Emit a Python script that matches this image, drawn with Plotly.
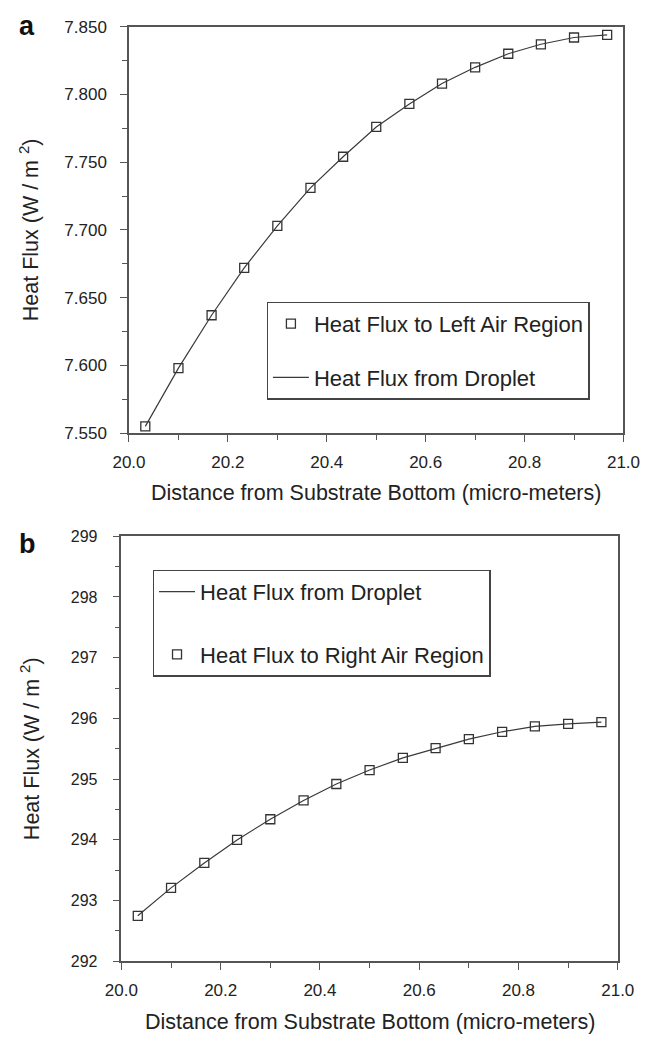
import plotly.graph_objects as go

# ---- data -------------------------------------------------------------
distance_um = [20.033, 20.100, 20.167, 20.233, 20.300, 20.367, 20.433, 20.500,
               20.567, 20.633, 20.700, 20.767, 20.833, 20.900, 20.967]

# panel a
left_air_flux = [7.555, 7.598, 7.637, 7.672, 7.703, 7.731, 7.754, 7.776,
                 7.793, 7.808, 7.820, 7.830, 7.837, 7.842, 7.844]
droplet_flux_a = [7.555, 7.598, 7.637, 7.672, 7.703, 7.731, 7.754, 7.776,
                  7.793, 7.808, 7.820, 7.830, 7.837, 7.842, 7.844]

# panel b
right_air_flux = [292.75, 293.21, 293.62, 294.00, 294.34, 294.65, 294.92, 295.15,
                  295.35, 295.51, 295.66, 295.78, 295.87, 295.91, 295.94]
droplet_flux_b = [292.75, 293.21, 293.62, 294.00, 294.34, 294.65, 294.92, 295.15,
                  295.35, 295.51, 295.66, 295.78, 295.87, 295.91, 295.94]

x_range = [20.0, 21.0]
ya_range = [7.55, 7.85]
yb_range = [292, 299]

# ---- styling ----------------------------------------------------------
W, H = 668, 1044
FONT = "Arial, 'Liberation Sans', sans-serif"
INK = "#222222"
AXIS = "#555555"
MARK = "#333333"
LINE = "#3a3a3a"


def px_x(v):
    return v / W


def px_y(v):
    return 1 - v / H


dom_a_x = [px_x(118), px_x(639)]
dom_a_y = [px_y(432), px_y(18)]
dom_b_x = [px_x(110), px_x(633)]
dom_b_y = [px_y(970), px_y(537)]

fig = go.Figure()

marker_style = dict(symbol="square-open", size=9, color=MARK, line=dict(width=1.3, color=MARK))
line_style = dict(color=LINE, width=1.2)

# panel a
fig.add_trace(go.Scatter(x=distance_um, y=left_air_flux, mode="markers",
                         name="Heat Flux to Left Air Region", marker=marker_style,
                         xaxis="x", yaxis="y", legend="legend", legendgroup="a1"))
fig.add_trace(go.Scatter(x=distance_um, y=droplet_flux_a, mode="lines",
                         name="Heat Flux from Droplet", line=line_style,
                         xaxis="x", yaxis="y", legend="legend", legendgroup="a2"))

# panel b
fig.add_trace(go.Scatter(x=distance_um, y=droplet_flux_b, mode="lines",
                         name="Heat Flux from Droplet", line=line_style,
                         xaxis="x2", yaxis="y2", legend="legend2", legendgroup="b1"))
fig.add_trace(go.Scatter(x=distance_um, y=right_air_flux, mode="markers",
                         name="Heat Flux to Right Air Region", marker=marker_style,
                         xaxis="x2", yaxis="y2", legend="legend2", legendgroup="b2"))

tick_font = dict(family=FONT, size=17, color=INK)


def main_axis(domain, rng, anchor, dtick, minor_dtick, fmt, standoff, font=tick_font):
    return dict(domain=domain, range=rng, anchor=anchor, tickmode="linear",
                tick0=rng[0], dtick=dtick, tickformat=fmt,
                ticks="outside", ticklen=7, tickwidth=1.3, tickcolor=AXIS,
                minor=dict(dtick=minor_dtick, ticks="outside", ticklen=5,
                           tickwidth=1.2, tickcolor=AXIS),
                showline=True, linecolor=AXIS, linewidth=1.5, mirror=True,
                showgrid=False, zeroline=False, tickfont=font,
                ticklabelstandoff=standoff, fixedrange=True)


def inner_ticks(overlay, domain, rng, anchor, dtick):
    # inward half of the major ticks, so they cross the axis line
    return dict(overlaying=overlay, domain=domain, range=rng, anchor=anchor,
                tickmode="linear", tick0=rng[0], dtick=dtick,
                ticks="inside", ticklen=6, tickwidth=1.3, tickcolor=AXIS,
                showticklabels=False, showline=False, showgrid=False,
                zeroline=False, fixedrange=True)


fig.update_layout(
    width=W, height=H, autosize=False,
    margin=dict(l=0, r=0, t=0, b=0),
    paper_bgcolor="white", plot_bgcolor="white",
    font=dict(family=FONT, color=INK),
    xaxis=main_axis(dom_a_x, x_range, "y", 0.2, 0.1, ".1f", 6),
    yaxis=main_axis(dom_a_y, ya_range, "x", 0.05, 0.025, ".3f", 10),
    xaxis2=main_axis(dom_b_x, x_range, "y2", 0.2, 0.1, ".1f", 6),
    yaxis2=main_axis(dom_b_y, yb_range, "x2", 1, 0.5, "d", 12,
                     font=dict(family=FONT, size=16, color=INK)),
    xaxis3=inner_ticks("x", dom_a_x, x_range, "y", 0.2),
    yaxis3=inner_ticks("y", dom_a_y, ya_range, "x", 0.05),
    xaxis4=inner_ticks("x2", dom_b_x, x_range, "y2", 0.2),
    yaxis4=inner_ticks("y2", dom_b_y, yb_range, "x2", 1),
    legend=dict(x=px_x(263), y=px_y(298), xanchor="left", yanchor="top",
                bgcolor="white", bordercolor="#444444", borderwidth=1.3,
                font=dict(family=FONT, size=22, color=INK),
                traceorder="grouped", tracegroupgap=22, itemwidth=36),
    legend2=dict(x=px_x(143), y=px_y(571), xanchor="left", yanchor="top",
                 bgcolor="white", bordercolor="#444444", borderwidth=1.3,
                 font=dict(family=FONT, size=22, color=INK),
                 traceorder="grouped", tracegroupgap=31, itemwidth=36),
    showlegend=True,
)

title_font = dict(family=FONT, size=21.5, color=INK)
x_title = "Distance from Substrate Bottom (micro-meters)"
y_title = "Heat Flux (W / m <sup>2</sup>)"

annotations = [
    dict(text=x_title, x=(dom_a_x[0] + dom_a_x[1]) / 2, y=px_y(493)),
    dict(text=x_title, x=(dom_b_x[0] + dom_b_x[1]) / 2, y=px_y(1032)),
    dict(text=y_title, x=px_x(13), y=(dom_a_y[0] + dom_a_y[1]) / 2, textangle=-90),
    dict(text=y_title, x=px_x(13), y=(dom_b_y[0] + dom_b_y[1]) / 2, textangle=-90),
]
for a in annotations:
    fig.add_annotation(xref="paper", yref="paper", showarrow=False,
                       xanchor="center", yanchor="middle", font=title_font, **a)

for label, ypos in (("a", 17), ("b", 545)):
    fig.add_annotation(text=f"<b>{label}</b>", xref="paper", yref="paper",
                       x=px_x(11), y=px_y(ypos), showarrow=False,
                       xanchor="center", yanchor="middle",
                       font=dict(family=FONT, size=27, color="#111111"))

fig.write_html("out.html")
